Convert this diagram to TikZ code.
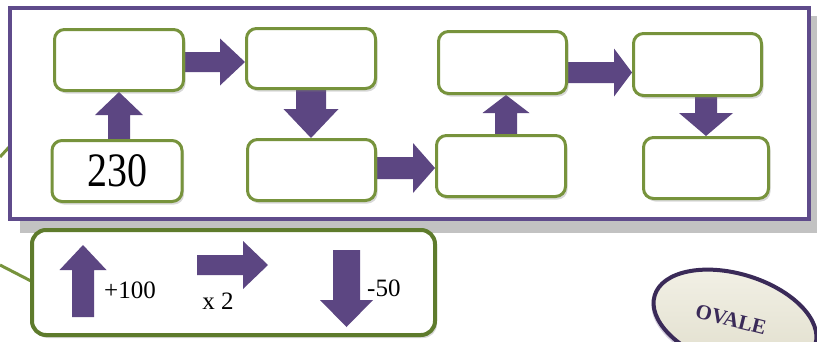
\documentclass[tikz,border=0pt]{standalone}
\usepackage{fontspec}
\setmainfont{Liberation Serif}
\usetikzlibrary{calc,shadows,shapes.geometric}
\definecolor{arrowpurple}{HTML}{5C4682}
\definecolor{framepurple}{HTML}{5F4B8B}
\definecolor{boxgreen}{HTML}{77933C}
\definecolor{legendgreen}{HTML}{5E7B2C}
\definecolor{ovalfill}{HTML}{E9E6D3}
\definecolor{ovalline}{HTML}{3A2A58}
\pgfdeclarelayer{back}
\pgfdeclarelayer{mid}
\pgfsetlayers{back,mid,main}
% block arrow: from, tip, shaft half width, head half width, head length
\newcommand\blockconn[5]{%
  \path ($(#2)!#5pt!(#1)$) coordinate (bcP);
  \fill[arrowpurple] ($(#1)!#3pt!90:(#2)$) -- ($(bcP)!#3pt!-90:(#1)$) -- ($(bcP)!#4pt!-90:(#1)$) -- (#2) -- ($(bcP)!#4pt!90:(#1)$) -- ($(bcP)!#3pt!90:(#1)$) -- ($(#1)!#3pt!-90:(#2)$) -- cycle;
}
\tikzset{
  box/.style={draw=boxgreen, line width=3pt, fill=white, rounded corners=10pt,
    minimum width=129pt, minimum height=61pt, inner sep=0pt,
    drop shadow={shadow xshift=2pt, shadow yshift=-3pt, opacity=.3}},
  legendbox/.style={draw=legendgreen, line width=4pt, fill=white, rounded corners=14pt,
    minimum width=403pt, minimum height=105pt, inner sep=0pt,
    drop shadow={shadow xshift=2pt, shadow yshift=-3pt, opacity=.3}},
  lbl/.style={inner sep=0pt, font=\fontsize{25}{25}\selectfont},
  link/.style={draw=boxgreen, line width=3pt}
}
\begin{document}
\begin{tikzpicture}[x=1pt,y=-1pt]
\useasboundingbox (0,0) rectangle (817,341);

% boxes
\node[box] (A) at (119,60) {};
\node[box, minimum width=130pt] (B) at (117,171) {\scalebox{1}[1.2]{\fontsize{40}{40}\selectfont 230}};
\node[box, minimum height=60pt] (C) at (311,58.5) {};
\node[box, minimum width=128pt] (D) at (311.5,170) {};
\node[box, minimum width=128pt, minimum height=62pt] (E) at (502.5,62.5) {};
\node[box] (F) at (501,166) {};
\node[box, minimum width=128pt, minimum height=62pt] (G) at (697.5,64.5) {};
\node[box, minimum width=125pt] (H) at (706,168) {};

% frame and its shadow
\begin{pgfonlayer}{back}
  \fill[white] (0,0) rectangle (817,341);
  \coordinate (g1) at (0,157);
  \coordinate (g2) at (22,133);
  \draw[link] (g1) -- (g2);
  \fill[gray!48] (20,16) rectangle (817,233);
  \draw[framepurple, line width=3.5pt, fill=white] (10,8) rectangle (809,219);
\end{pgfonlayer}

% connectors
\begin{pgfonlayer}{mid}
  \blockconn{A.south |- B.north}{A.south}{11}{24}{23}
  \blockconn{[yshift=-2pt]A.east}{[yshift=-2pt]A.east -| C.west}{10}{23.5}{25}
  \blockconn{C.south}{C.south |- D.north}{15}{27.5}{29}
  \blockconn{[yshift=2pt]D.east}{[yshift=2pt]D.east -| F.west}{11}{25}{22}
  \blockconn{[xshift=5pt]F.north}{[xshift=5pt]F.north |- E.south}{11}{23.5}{18}
  \blockconn{[yshift=-10pt]E.east}{[yshift=-10pt]E.east -| G.west}{10.5}{24}{18}
  \blockconn{H.north |- G.south}{H.north}{11}{27}{23}
\end{pgfonlayer}

% legend
\coordinate (g3) at (0,265);
\coordinate (g4) at (31,281);
\draw[link] (g3) -- (g4);
\node[legendbox] (L) at (233.5,282.5) {};
\coordinate (u1) at (83,317);
\coordinate (u2) at (83,245);
\blockconn{u1}{u2}{11}{23.5}{25}
\coordinate (r1) at (197,265);
\coordinate (r2) at (268,265);
\blockconn{r1}{r2}{10}{24}{25}
\coordinate (d1) at (346.5,250);
\coordinate (d2) at (346.5,327);
\blockconn{d1}{d2}{13.5}{26.5}{27}
\node[lbl, anchor=west] (t1) at (104,290) {+100};
\node[lbl] (t2) at (218,301) {x 2};
\node[lbl, anchor=west] (t3) at (367,288) {-50};

% oval
\node[ellipse, draw=ovalline, line width=4pt, top color=ovalfill!55!white, bottom color=ovalfill!92!gray,
  minimum width=168pt, minimum height=92pt, rotate=-17,
  drop shadow={shadow xshift=-2pt, shadow yshift=-3pt, opacity=.25, fill=arrowpurple}] (ov) at (735,320) {};
\node[rotate=-14, text=ovalline, inner sep=0pt, font=\bfseries\fontsize{21}{21}\selectfont] (ovt) at (731,320) {OVALE};
\end{tikzpicture}
\end{document}
